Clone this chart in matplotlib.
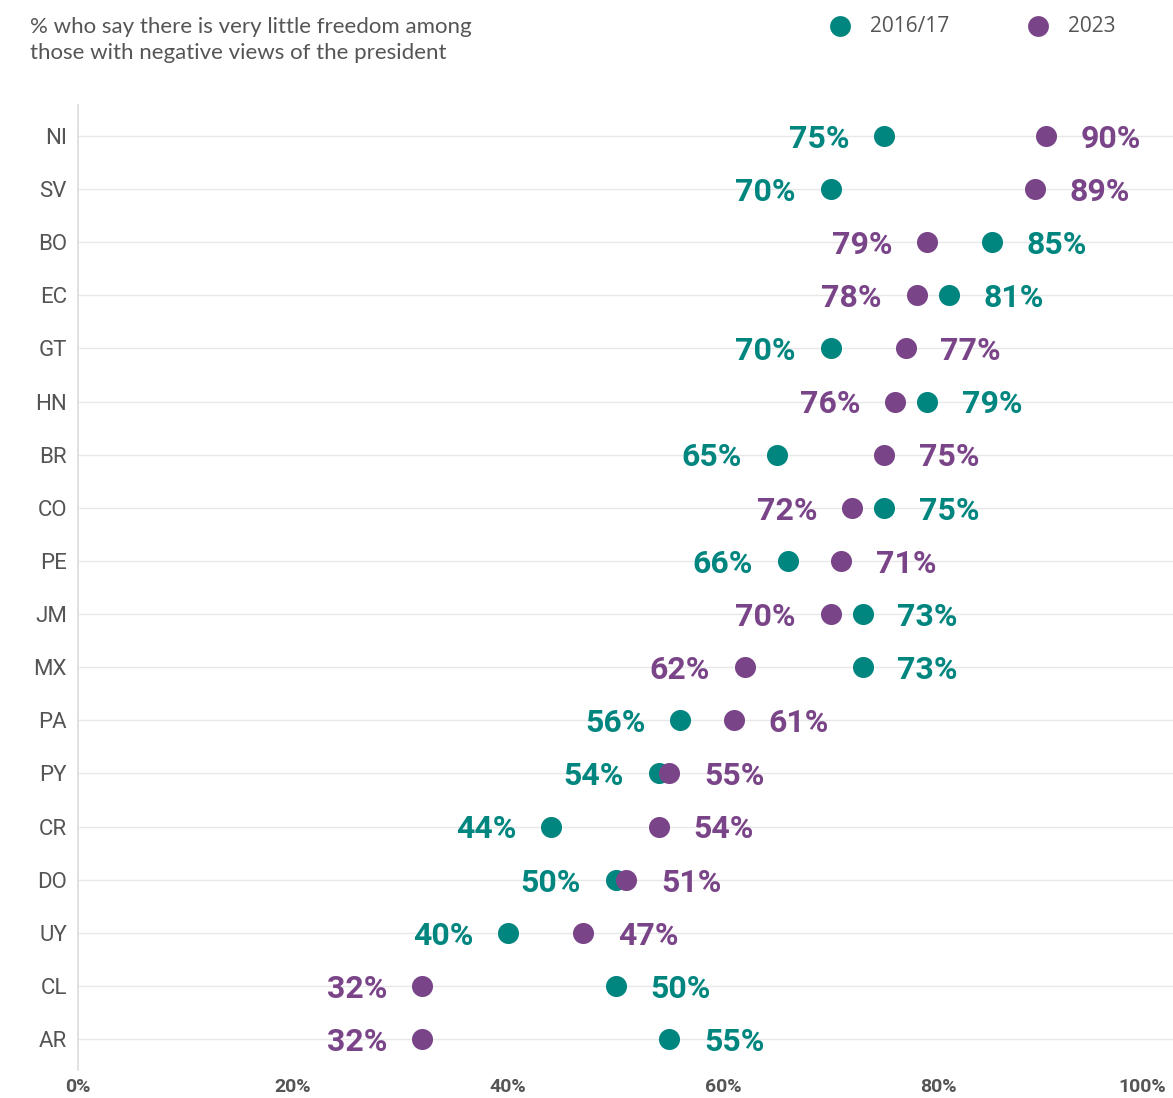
import matplotlib
matplotlib.use("Agg")
import matplotlib.pyplot as plt
from matplotlib.transforms import ScaledTranslation

countries = ["NI", "SV", "BO", "EC", "GT", "HN", "BR", "CO", "PE", "JM",
             "MX", "PA", "PY", "CR", "DO", "UY", "CL", "AR"]
v2016 = [75, 70, 85, 81, 70, 79, 65, 75, 66, 73, 73, 56, 54, 44, 50, 40, 50, 55]
v2023 = [90, 89, 79, 78, 77, 76, 75, 72, 71, 70, 62, 61, 55, 54, 51, 47, 32, 32]
xticks = [0, 20, 40, 60, 80, 100]
xticklabels = ["0%", "20%", "40%", "60%", "80%", "100%"]
series_names = ["2016/17", "2023"]
title = "% who say there is very little freedom among\nthose with negative views of the president"

TEAL = "#00857f"
PURPLE = "#7a4588"
GREY = "#555555"

fig = plt.figure(figsize=(11.73, 10.98), dpi=100)
ax = fig.add_axes([78/1173, 1 - 1070/1098, 1 - 78/1173, (1070 - 105)/1098])

ys = list(range(len(countries)))
ax.scatter(v2016, ys, s=230, color=TEAL, zorder=3, linewidths=0)
ax.scatter(v2023, ys, s=230, color=PURPLE, zorder=4, linewidths=0)

for y, a, b in zip(ys, v2016, v2023):
    for val, other, col in ((a, b, TEAL), (b, a, PURPLE)):
        right = val > other or (val == other and col == PURPLE)
        ax.annotate(f"{val}%", (val, y), xytext=(25 if right else -25, -2),
                    textcoords="offset points", ha="left" if right else "right",
                    va="center", color=col, fontsize=23, fontweight="bold",
                    family="Roboto", zorder=5)

ax.set_xlim(0, (1173 - 78) / 10.75)
ax.set_ylim(len(countries) - 1 + 0.58, -0.58)
ax.set_yticks(ys)
ax.set_yticklabels(countries, fontsize=16, color=GREY, family="Roboto")
ax.set_xticks(xticks)
ax.set_xticklabels(xticklabels, fontsize=14, color=GREY, family="Roboto",
                   fontweight="bold")
ax.tick_params(axis="both", length=0)
ax.tick_params(axis="y", pad=8)
ax.tick_params(axis="x", pad=6)
last = ax.get_xticklabels()[-1]
last.set_transform(last.get_transform() + ScaledTranslation(-11/100, 0, fig.dpi_scale_trans))

for y in ys:
    ax.axhline(y, color="#e8e8e8", linewidth=1, zorder=1)
for s in ["top", "right", "bottom"]:
    ax.spines[s].set_visible(False)
ax.spines["left"].set_color("#dcdcdc")
ax.spines["left"].set_linewidth(1.2)

fig.text(30/1173, 1 - 17/1098, title, ha="left", va="top", fontsize=16,
         color=GREY, family="Lato", linespacing=1.35)

# legend
for xpix, col, name in ((840, TEAL, series_names[0]), (1038, PURPLE, series_names[1])):
    fig.add_artist(plt.Line2D([xpix/1173], [1 - 26/1098], marker="o", markersize=15,
                              color=col, markeredgewidth=0, transform=fig.transFigure))
    fig.text((xpix + 30)/1173, 1 - 26/1098, name, ha="left", va="center",
             fontsize=15, color=GREY, family="Open Sans")

fig.savefig("out.png", dpi=100)
